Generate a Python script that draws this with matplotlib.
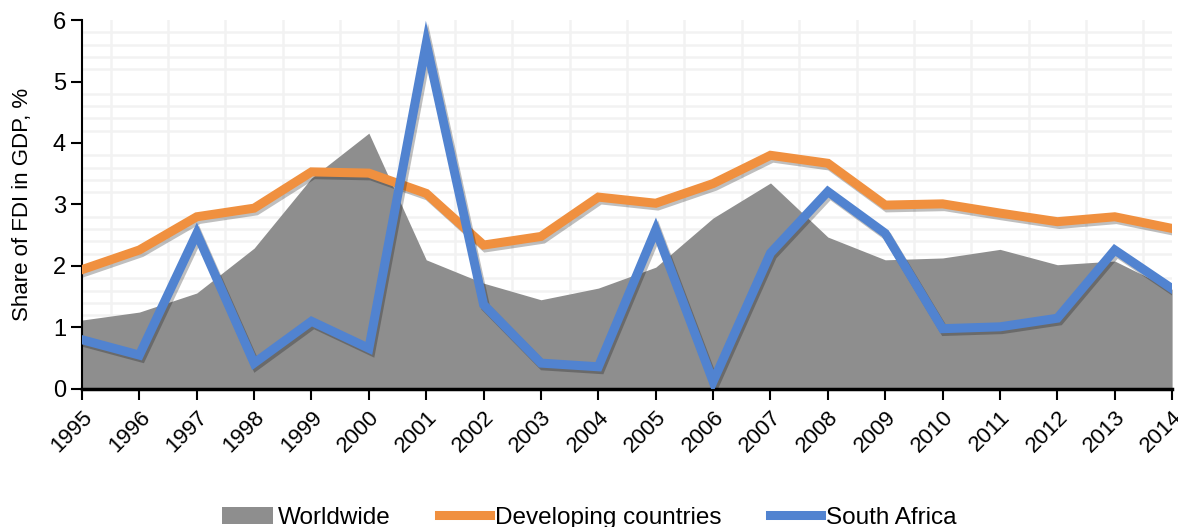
import matplotlib.pyplot as plt
import matplotlib.patheffects as pe
from matplotlib.patches import Patch
from matplotlib.lines import Line2D
import numpy as np

plt.rcParams['font.family'] = ['Liberation Sans', 'DejaVu Sans']

# ---------- data ----------
years = list(range(1995, 2015))
worldwide = [1.12, 1.25, 1.56, 2.29, 3.43, 4.16, 2.10, 1.72, 1.45, 1.64,
             1.98, 2.78, 3.35, 2.47, 2.10, 2.13, 2.27, 2.02, 2.08, 1.62]
developing = [1.94, 2.26, 2.80, 2.94, 3.53, 3.51, 3.18, 2.34, 2.48, 3.12,
              3.02, 3.34, 3.80, 3.67, 2.99, 3.01, 2.86, 2.72, 2.80, 2.61]
south_africa = [0.80, 0.55, 2.53, 0.42, 1.10, 0.66, 5.62, 1.37, 0.42, 0.36,
                2.59, 0.12, 2.21, 3.21, 2.53, 0.98, 1.01, 1.15, 2.26, 1.63]

GRAY = '#8e8e8e'
ORANGE = '#f0903f'
BLUE = '#5183d0'

fig = plt.figure(figsize=(11.78, 5.27), dpi=100)
ax = fig.add_axes([0.0696, 0.262, 0.9254, 0.700])

# grid (every half year, every 0.2)
ax.set_xticks(np.arange(1995, 2014.01, 0.5), minor=True)
ax.set_yticks(np.arange(0, 6.01, 0.2), minor=True)
ax.grid(True, which='minor', color='#f2f2f2', lw=1.8, zorder=0)
ax.tick_params(which='minor', length=0)

shadow = [pe.SimpleLineShadow(offset=(1.5, -2), shadow_color='black', alpha=0.25),
          pe.Normal()]

ax.fill_between(years, worldwide, 0, color=GRAY, lw=0, zorder=2)
ax.plot(years, developing, color=ORANGE, lw=6.5, solid_joinstyle='miter',
        path_effects=shadow, zorder=3)
ax.plot(years, south_africa, color=BLUE, lw=6.5, solid_joinstyle='miter',
        path_effects=shadow, zorder=4)

ax.set_xlim(1995, 2014)
ax.set_ylim(0, 6)
ax.set_xticks(years)
ax.set_xticklabels([str(y) for y in years], rotation=45, fontsize=16,
                   ha='right', rotation_mode='anchor')
ax.set_yticks(range(0, 7))
ax.tick_params(axis='y', labelsize=17, length=8, width=1.5)
ax.tick_params(axis='x', length=8, width=1.5, pad=5)

for s in ['top', 'right']:
    ax.spines[s].set_visible(False)
ax.spines['left'].set_linewidth(1.5)
ax.spines['bottom'].set_linewidth(2.5)

ax.set_ylabel('Share of FDI in GDP, %', fontsize=16)
ax.yaxis.set_label_coords(-0.045, 0.5)

handles = [Patch(facecolor=GRAY, edgecolor='none'),
           Line2D([0], [0], color=ORANGE, lw=6.5),
           Line2D([0], [0], color=BLUE, lw=6.5)]
fig.legend(handles, ['Worldwide', 'Developing countries', 'South Africa'],
           loc='lower center', bbox_to_anchor=(0.5, -0.045), ncol=3,
           frameon=False, fontsize=17.5, handlelength=2.1, handletextpad=0.2,
           columnspacing=2.0)

fig.savefig('out.png', dpi=100)
